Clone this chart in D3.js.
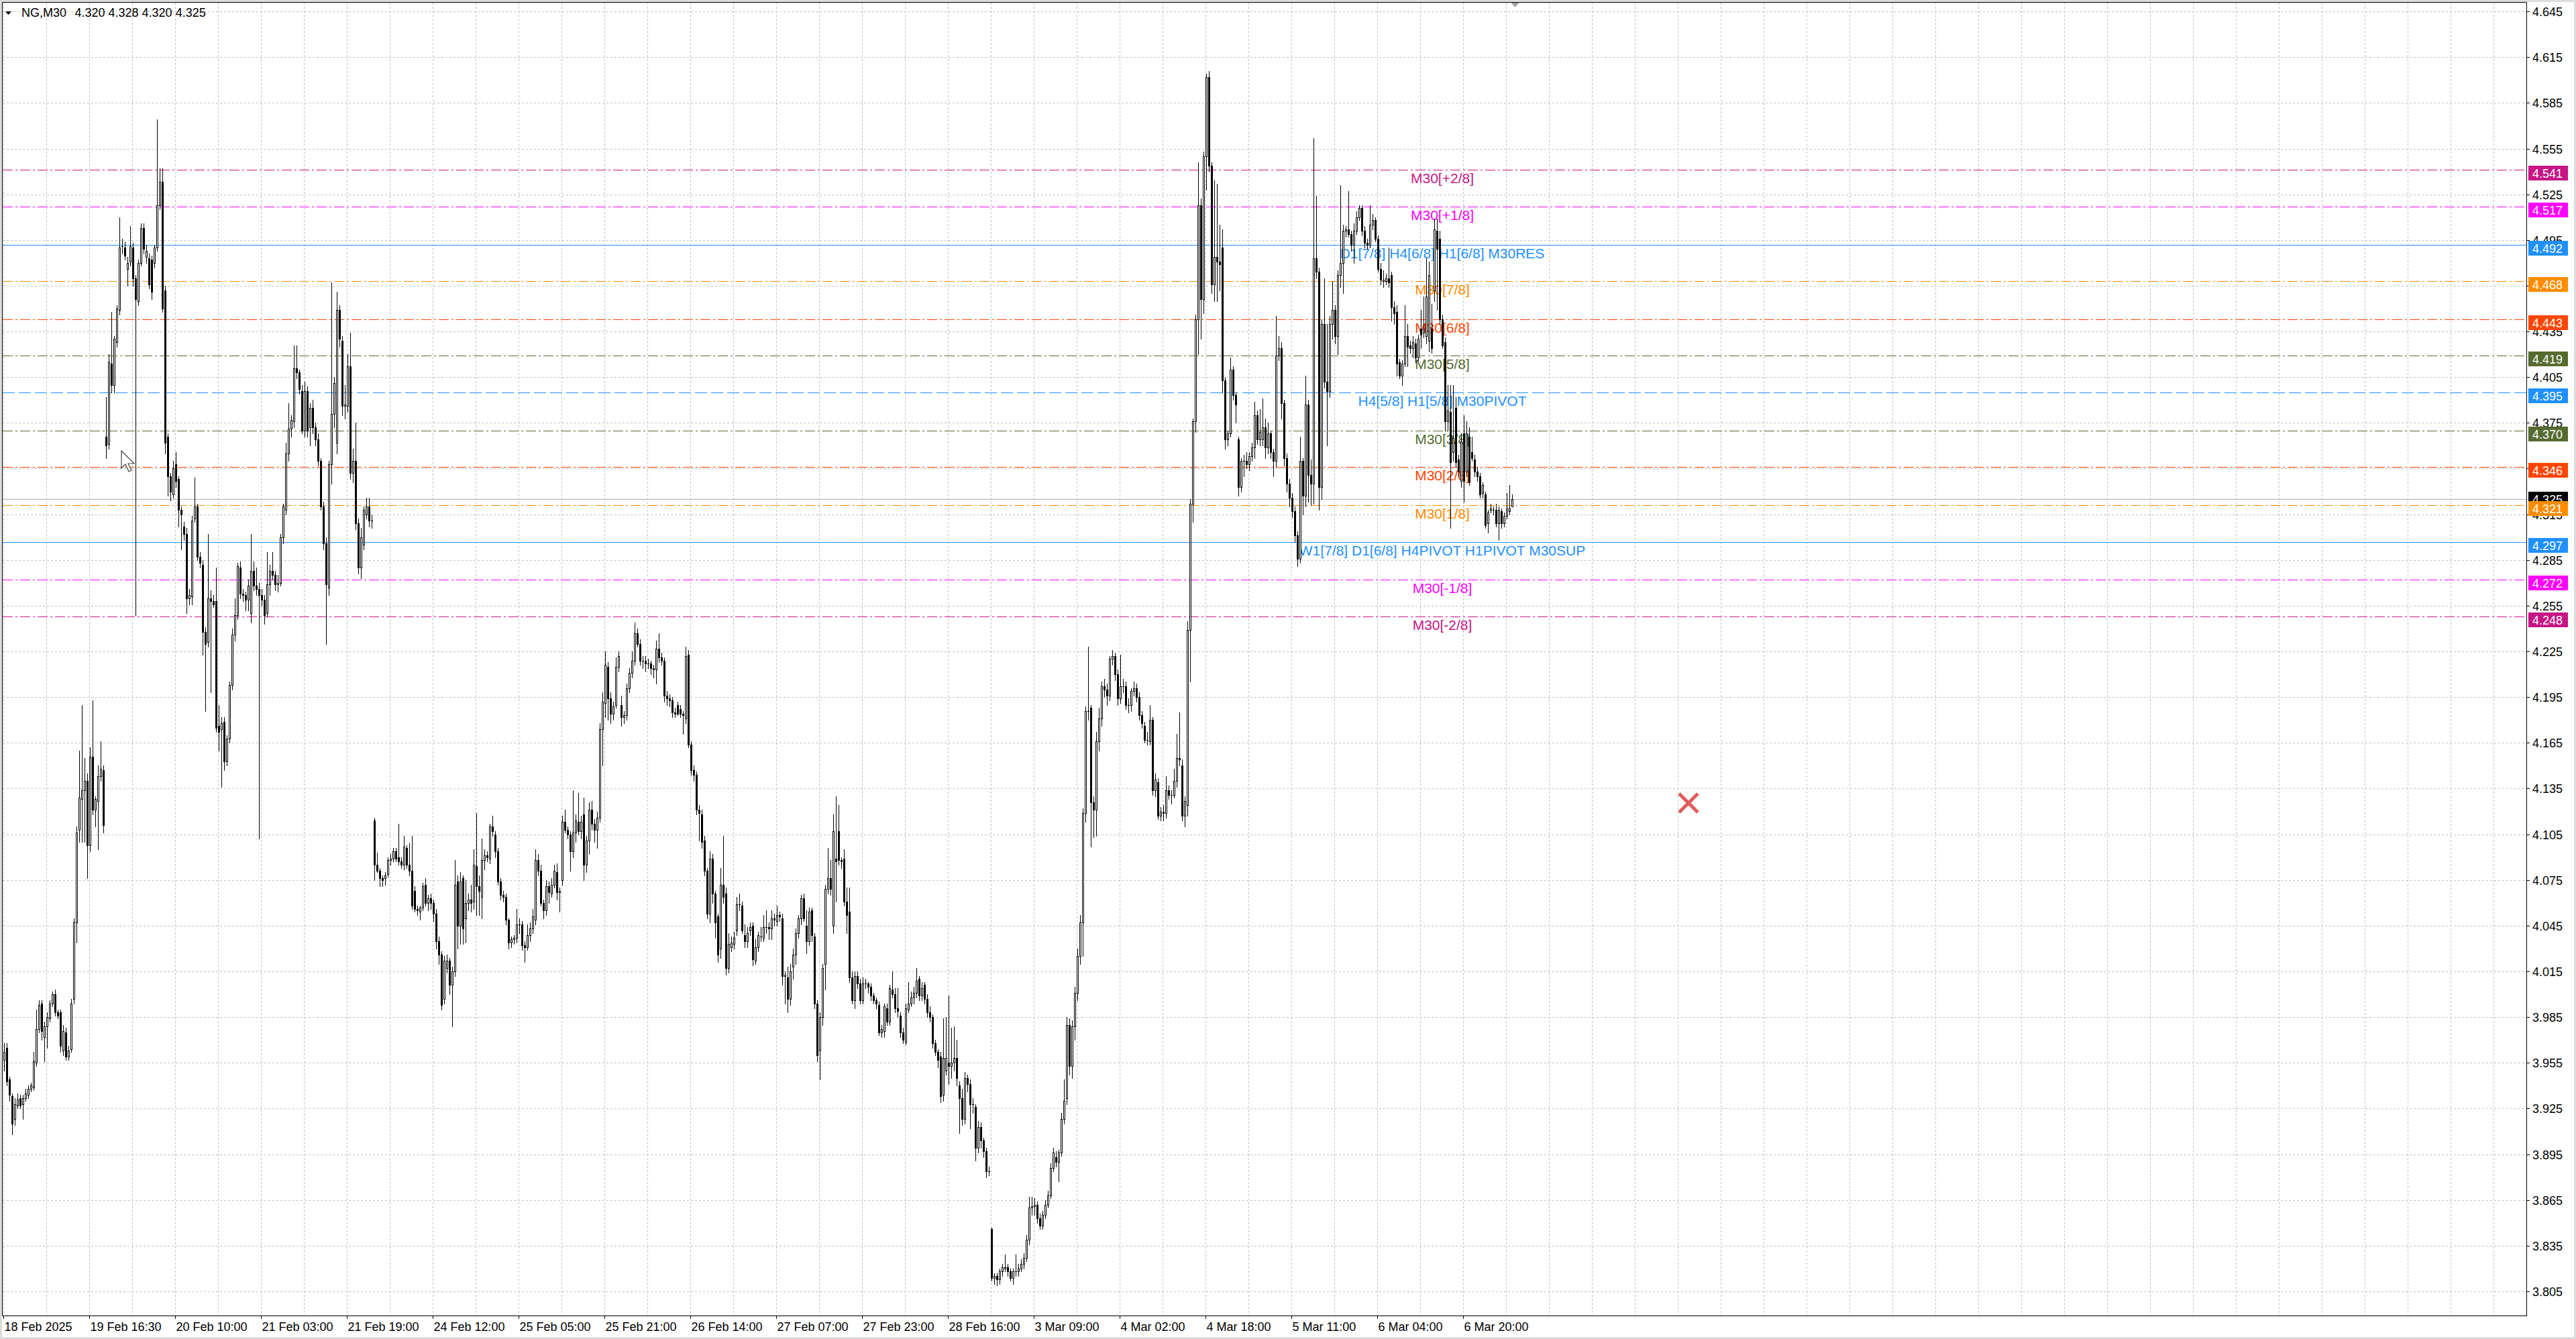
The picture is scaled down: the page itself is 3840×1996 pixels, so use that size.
<!DOCTYPE html>
<html><head><meta charset="utf-8">
<script src="https://cdn.jsdelivr.net/npm/d3@7"></script>
<style>html,body{margin:0;padding:0;background:#dcdcdc;overflow:hidden}svg{display:block}</style>
</head><body>
<svg id="chart" width="3840" height="1996"></svg>
<script>
// ---- DATA: NG,M30 candles [open, high, low, close], one per 30-minute bar ----
const bars = [
[3.957,3.968,3.950,3.962],[3.965,3.968,3.940,3.943],[3.944,3.946,3.930,3.934],[3.933,3.935,3.908,3.915],[3.918,3.932,3.914,3.928],[3.927,3.935,3.925,3.931],
[3.932,3.934,3.925,3.927],[3.928,3.934,3.918,3.932],[3.932,3.938,3.930,3.935],[3.934,3.940,3.932,3.938],[3.938,3.942,3.936,3.940],[3.939,3.962,3.937,3.956],
[3.955,3.990,3.953,3.977],[3.977,3.996,3.975,3.993],[3.994,3.996,3.970,3.976],[3.972,3.982,3.956,3.979],[3.979,3.988,3.965,3.985],[3.984,3.996,3.982,3.994],
[3.994,4.002,3.992,4.000],[4.000,4.003,3.986,3.988],[3.988,3.990,3.984,3.986],[3.988,3.990,3.962,3.966],[3.963,3.980,3.960,3.976],[3.975,3.978,3.957,3.959],
[3.959,3.966,3.957,3.963],[3.964,3.997,3.962,3.994],[3.997,4.050,3.994,4.047],[4.047,4.110,4.034,4.106],[4.108,4.160,4.100,4.129],[4.128,4.190,4.100,4.134],
[4.134,4.155,4.100,4.140],[4.140,4.145,4.076,4.098],[4.098,4.162,4.094,4.156],[4.156,4.193,4.118,4.121],[4.121,4.130,4.110,4.128],[4.127,4.150,4.095,4.143],
[4.143,4.166,4.140,4.148],[4.147,4.150,4.106,4.111],[4.366,4.392,4.352,4.360],[4.361,4.420,4.358,4.415],[4.414,4.448,4.395,4.400],[4.400,4.432,4.395,4.430],
[4.428,4.452,4.425,4.450],[4.449,4.510,4.446,4.490],[4.491,4.496,4.486,4.491],[4.490,4.494,4.482,4.485],[4.476,4.484,4.465,4.480],[4.481,4.504,4.478,4.491],
[4.490,4.493,4.465,4.470],[4.470,4.472,4.249,4.456],[4.455,4.482,4.452,4.480],[4.480,4.506,4.478,4.503],[4.503,4.506,4.486,4.489],[4.484,4.492,4.480,4.488],
[4.483,4.486,4.463,4.466],[4.482,4.485,4.456,4.461],[4.480,4.492,4.477,4.490],[4.490,4.574,4.488,4.518],[4.518,4.542,4.515,4.533],[4.533,4.542,4.448,4.450],
[4.462,4.465,4.355,4.362],[4.366,4.368,4.327,4.340],[4.340,4.342,4.324,4.330],[4.328,4.350,4.326,4.345],[4.348,4.356,4.333,4.337],[4.338,4.340,4.307,4.318],
[4.318,4.320,4.292,4.315],[4.307,4.310,4.298,4.302],[4.302,4.306,4.250,4.260],[4.260,4.266,4.256,4.262],[4.261,4.314,4.256,4.311],[4.312,4.339,4.310,4.320],
[4.320,4.322,4.285,4.287],[4.287,4.290,4.280,4.283],[4.282,4.285,4.223,4.238],[4.238,4.241,4.186,4.230],[4.231,4.302,4.228,4.260],[4.260,4.265,4.198,4.258],
[4.258,4.262,4.254,4.256],[4.258,4.280,4.172,4.175],[4.176,4.190,4.160,4.172],[4.174,4.182,4.136,4.178],[4.179,4.182,4.147,4.153],[4.153,4.170,4.150,4.168],
[4.168,4.205,4.165,4.203],[4.203,4.240,4.200,4.236],[4.236,4.260,4.232,4.249],[4.249,4.283,4.246,4.281],[4.280,4.284,4.260,4.263],[4.263,4.266,4.258,4.262],
[4.262,4.264,4.252,4.259],[4.259,4.272,4.252,4.268],[4.250,4.302,4.244,4.278],[4.278,4.284,4.265,4.268],[4.268,4.280,4.262,4.266],[4.266,4.270,4.102,4.262],
[4.262,4.266,4.255,4.259],[4.259,4.262,4.243,4.249],[4.250,4.290,4.248,4.269],[4.269,4.282,4.262,4.278],[4.278,4.290,4.272,4.275],[4.275,4.278,4.265,4.269],
[4.269,4.275,4.264,4.270],[4.270,4.302,4.268,4.300],[4.300,4.322,4.296,4.320],[4.318,4.362,4.315,4.355],[4.355,4.388,4.350,4.371],[4.371,4.380,4.366,4.377],
[4.376,4.426,4.372,4.411],[4.411,4.426,4.404,4.408],[4.408,4.410,4.394,4.397],[4.396,4.400,4.368,4.370],[4.370,4.402,4.366,4.396],[4.396,4.399,4.366,4.370],
[4.372,4.388,4.360,4.385],[4.385,4.390,4.368,4.372],[4.372,4.375,4.360,4.364],[4.364,4.368,4.347,4.350],[4.350,4.352,4.318,4.320],[4.320,4.323,4.292,4.296],
[4.296,4.300,4.230,4.269],[4.267,4.350,4.262,4.348],[4.348,4.467,4.335,4.381],[4.381,4.405,4.372,4.401],[4.362,4.461,4.355,4.449],[4.449,4.452,4.425,4.430],
[4.429,4.432,4.380,4.386],[4.386,4.400,4.378,4.387],[4.386,4.420,4.382,4.412],[4.412,4.434,4.338,4.342],[4.342,4.358,4.336,4.350],[4.350,4.375,4.305,4.309],
[4.309,4.312,4.276,4.280],[4.280,4.306,4.273,4.300],[4.295,4.320,4.292,4.318],[4.315,4.326,4.312,4.320],[4.320,4.326,4.307,4.311],[4.311,4.315,4.306,4.311],
// 24 Feb
[4.114,4.116,4.075,4.085],[4.085,4.093,4.080,4.081],[4.081,4.083,4.071,4.076],[4.076,4.078,4.071,4.075],[4.076,4.080,4.072,4.078],[4.079,4.090,4.077,4.088],
[4.088,4.092,4.085,4.089],[4.089,4.096,4.087,4.094],[4.094,4.096,4.087,4.089],[4.090,4.112,4.085,4.087],[4.087,4.090,4.083,4.085],[4.085,4.104,4.082,4.097],
[4.096,4.098,4.083,4.085],[4.085,4.099,4.078,4.081],[4.081,4.104,4.056,4.058],[4.068,4.071,4.054,4.056],[4.056,4.058,4.052,4.055],[4.054,4.058,4.049,4.057],
[4.057,4.073,4.055,4.071],[4.072,4.076,4.058,4.060],[4.060,4.065,4.055,4.063],[4.063,4.066,4.056,4.060],[4.060,4.062,4.048,4.053],[4.053,4.056,4.030,4.035],
[4.035,4.038,4.020,4.026],[4.026,4.028,3.990,3.993],[3.997,4.025,3.994,4.022],[4.017,4.026,4.014,4.022],[4.022,4.024,4.000,4.006],[4.006,4.018,3.979,4.015],
[4.015,4.088,4.012,4.072],[4.074,4.078,4.030,4.045],[4.045,4.080,4.033,4.074],[4.076,4.078,4.033,4.043],[4.050,4.075,4.034,4.060],[4.060,4.066,4.055,4.062],
[4.062,4.072,4.054,4.060],[4.061,4.095,4.056,4.085],[4.084,4.119,4.052,4.071],[4.071,4.078,4.052,4.068],[4.064,4.102,4.050,4.088],[4.088,4.095,4.082,4.091],
[4.091,4.094,4.087,4.090],[4.089,4.112,4.086,4.110],[4.110,4.117,4.104,4.107],[4.105,4.107,4.090,4.094],[4.094,4.096,4.072,4.074],[4.074,4.076,4.062,4.065],
[4.065,4.068,4.061,4.064],[4.064,4.066,4.046,4.049],[4.049,4.050,4.030,4.034],[4.034,4.038,4.031,4.036],[4.036,4.039,4.033,4.037],[4.037,4.056,4.034,4.046],
[4.046,4.050,4.040,4.046],[4.046,4.048,4.029,4.032],[4.032,4.035,4.021,4.031],[4.031,4.046,4.029,4.039],[4.039,4.047,4.035,4.043],[4.043,4.056,4.040,4.051],
[4.049,4.095,4.046,4.088],[4.088,4.092,4.078,4.081],[4.081,4.085,4.058,4.060],[4.060,4.062,4.050,4.055],[4.055,4.075,4.052,4.071],[4.071,4.074,4.060,4.067],
[4.066,4.076,4.064,4.072],[4.072,4.085,4.070,4.081],[4.080,4.086,4.062,4.067],[4.067,4.070,4.054,4.068],[4.075,4.117,4.072,4.113],[4.113,4.121,4.106,4.108],
[4.108,4.110,4.102,4.105],[4.105,4.107,4.081,4.094],[4.094,4.134,4.090,4.106],[4.106,4.118,4.100,4.114],[4.113,4.132,4.105,4.107],[4.107,4.117,4.102,4.113],
[4.118,4.129,4.075,4.085],[4.085,4.104,4.080,4.101],[4.101,4.126,4.092,4.121],[4.121,4.127,4.108,4.112],[4.112,4.115,4.100,4.108],[4.108,4.120,4.096,4.116],
[4.116,4.178,4.113,4.174],[4.174,4.198,4.150,4.192],[4.191,4.225,4.182,4.216],[4.215,4.218,4.180,4.194],[4.194,4.198,4.178,4.184],[4.184,4.192,4.180,4.189],
[4.190,4.221,4.188,4.215],[4.215,4.225,4.212,4.222],[4.190,4.196,4.176,4.182],[4.182,4.186,4.178,4.183],[4.183,4.204,4.180,4.201],[4.201,4.214,4.198,4.211],
[4.211,4.225,4.208,4.219],[4.219,4.244,4.216,4.237],[4.237,4.240,4.228,4.230],[4.230,4.233,4.216,4.219],[4.219,4.222,4.214,4.219],[4.219,4.222,4.212,4.217],
[4.217,4.220,4.214,4.217],[4.217,4.219,4.210,4.214],[4.213,4.216,4.208,4.214],[4.213,4.232,4.204,4.227],[4.227,4.237,4.218,4.221],[4.221,4.224,4.216,4.219],
[4.219,4.221,4.192,4.196],[4.196,4.199,4.190,4.194],[4.194,4.197,4.189,4.193],[4.193,4.195,4.182,4.185],[4.185,4.188,4.182,4.184],[4.190,4.192,4.183,4.184],
[4.187,4.190,4.182,4.184],[4.184,4.186,4.171,4.183],[4.181,4.228,4.178,4.222],[4.223,4.226,4.162,4.164],[4.164,4.166,4.144,4.147],[4.147,4.150,4.140,4.144],
[4.144,4.146,4.118,4.121],[4.121,4.124,4.101,4.119],[4.118,4.121,4.096,4.100],[4.101,4.104,4.078,4.081],[4.081,4.083,4.050,4.053],[4.053,4.094,4.047,4.089],
[4.089,4.092,4.060,4.066],[4.066,4.068,4.037,4.047],[4.051,4.053,4.021,4.026],[4.030,4.083,4.024,4.072],[4.072,4.104,4.060,4.064],[4.066,4.070,4.013,4.017],
[4.017,4.040,4.014,4.033],[4.031,4.038,4.028,4.034],[4.033,4.041,4.030,4.037],[4.042,4.064,4.039,4.059],[4.059,4.066,4.055,4.059],[4.058,4.061,4.040,4.042],
[4.039,4.046,4.031,4.035],[4.035,4.044,4.031,4.040],[4.042,4.047,4.039,4.044],[4.045,4.047,4.019,4.023],[4.022,4.036,4.020,4.031],[4.031,4.041,4.028,4.039],
[4.038,4.044,4.035,4.038],[4.037,4.052,4.035,4.044],[4.044,4.055,4.040,4.044],[4.044,4.047,4.036,4.043],[4.043,4.055,4.036,4.050],[4.050,4.053,4.045,4.049],
[4.048,4.058,4.045,4.052],[4.052,4.054,4.048,4.051],[4.050,4.053,4.006,4.012],[4.012,4.015,3.994,4.013],[4.011,4.018,3.988,3.997],[3.997,4.020,3.993,4.015],
[4.018,4.030,4.010,4.026],[4.026,4.043,4.020,4.040],[4.040,4.052,4.037,4.050],[4.050,4.065,4.046,4.063],[4.063,4.066,4.048,4.050],[4.045,4.055,4.027,4.035],
[4.035,4.057,4.032,4.054],[4.055,4.057,4.035,4.039],[4.038,4.040,3.991,3.994],[3.994,3.996,3.956,3.960],[3.963,3.988,3.944,3.985],[3.985,4.020,3.980,4.017],
[4.020,4.072,4.003,4.069],[4.069,4.096,4.066,4.076],[4.076,4.088,4.065,4.069],[4.045,4.118,4.040,4.107],[4.089,4.130,4.061,4.087],[4.107,4.124,4.085,4.088],
[4.088,4.090,4.083,4.087],[4.089,4.095,4.058,4.061],[4.061,4.070,4.040,4.052],[4.054,4.070,4.008,4.011],[4.011,4.015,3.994,3.996],[3.996,4.015,3.991,4.012],
[4.012,4.015,4.004,4.007],[4.007,4.010,3.994,3.996],[3.996,4.011,3.994,4.007],[4.007,4.010,4.004,4.007],[4.007,4.008,4.001,4.005],[4.005,4.007,3.996,3.999],
[3.999,4.001,3.994,3.996],[3.996,3.998,3.991,3.994],[3.993,3.995,3.973,3.975],[3.975,3.980,3.972,3.977],[3.976,3.994,3.972,3.992],[3.991,3.994,3.980,3.982],
[3.982,4.006,3.980,4.004],[4.003,4.015,3.998,4.000],[4.000,4.004,3.988,3.991],[3.991,4.004,3.985,3.989],[3.986,3.988,3.972,3.975],[3.975,3.978,3.968,3.970],
[3.969,3.994,3.967,3.991],[3.990,4.008,3.988,3.994],[3.994,4.002,3.992,3.998],[3.998,4.005,3.994,4.001],[4.001,4.017,3.998,4.009],[4.010,4.012,3.996,3.999],
[3.999,4.008,3.996,4.004],[4.006,4.008,3.994,3.997],[3.997,4.000,3.985,3.988],[3.988,3.992,3.982,3.985],[3.985,3.987,3.965,3.968],[3.968,3.970,3.960,3.962],
[3.962,3.964,3.952,3.957],[3.959,3.962,3.929,3.933],[3.934,3.984,3.930,3.958],[3.950,3.985,3.947,3.958],[3.955,3.999,3.941,3.953],[3.953,3.978,3.945,3.955],
[3.955,3.979,3.950,3.958],[3.958,3.970,3.940,3.945],[3.940,3.943,3.909,3.932],[3.932,3.938,3.914,3.918],[3.918,3.949,3.915,3.945],[3.945,3.947,3.936,3.941],
[3.941,3.944,3.912,3.928],[3.928,3.932,3.922,3.928],[3.926,3.928,3.891,3.899],[3.899,3.917,3.896,3.913],[3.913,3.916,3.899,3.904],[3.904,3.906,3.893,3.897],
[3.897,3.899,3.880,3.884],[3.884,3.887,3.881,3.884],
// 3 Mar
[3.846,3.847,3.812,3.814],[3.814,3.817,3.810,3.815],[3.815,3.817,3.809,3.813],[3.813,3.820,3.810,3.818],
[3.818,3.823,3.815,3.821],[3.820,3.829,3.818,3.821],[3.821,3.823,3.815,3.818],[3.818,3.820,3.812,3.814],[3.814,3.820,3.810,3.818],[3.818,3.829,3.815,3.818],
[3.818,3.823,3.815,3.820],[3.820,3.826,3.818,3.823],[3.823,3.830,3.820,3.827],[3.827,3.842,3.825,3.839],[3.839,3.867,3.836,3.860],[3.860,3.867,3.855,3.861],
[3.861,3.866,3.855,3.862],[3.862,3.864,3.850,3.853],[3.853,3.856,3.846,3.848],[3.848,3.858,3.846,3.855],[3.855,3.865,3.853,3.862],[3.862,3.871,3.860,3.868],
[3.868,3.889,3.866,3.886],[3.886,3.899,3.884,3.896],[3.893,3.897,3.887,3.890],[3.890,3.898,3.877,3.896],[3.896,3.922,3.894,3.918],[3.918,3.944,3.915,3.930],
[3.932,3.985,3.928,3.980],[3.980,3.984,3.947,3.953],[3.953,3.983,3.945,3.979],[3.979,4.005,3.970,4.001],[4.001,4.030,3.996,4.025],[4.025,4.052,4.020,4.047],
[4.047,4.122,4.025,4.119],[4.119,4.189,4.113,4.186],[4.186,4.228,4.180,4.186],[4.188,4.190,4.097,4.126],[4.126,4.130,4.103,4.121],[4.121,4.172,4.104,4.166],
[4.166,4.188,4.160,4.181],[4.181,4.205,4.176,4.202],[4.202,4.207,4.195,4.200],[4.200,4.204,4.190,4.196],[4.196,4.222,4.193,4.220],[4.220,4.226,4.216,4.222],
[4.222,4.224,4.206,4.210],[4.210,4.213,4.190,4.194],[4.194,4.223,4.191,4.202],[4.202,4.207,4.198,4.202],[4.202,4.205,4.187,4.190],[4.190,4.194,4.185,4.190],
[4.190,4.201,4.186,4.199],[4.199,4.205,4.196,4.201],[4.201,4.204,4.192,4.195],[4.195,4.198,4.180,4.183],[4.183,4.186,4.175,4.178],[4.176,4.179,4.165,4.167],
[4.167,4.172,4.164,4.167],[4.166,4.190,4.164,4.180],[4.180,4.182,4.131,4.134],[4.134,4.145,4.130,4.141],[4.139,4.142,4.115,4.117],[4.117,4.123,4.114,4.120],
[4.120,4.124,4.114,4.119],[4.119,4.143,4.116,4.134],[4.134,4.137,4.128,4.131],[4.131,4.134,4.125,4.131],[4.131,4.148,4.129,4.140],[4.140,4.171,4.136,4.155],
[4.155,4.185,4.150,4.154],[4.150,4.154,4.114,4.117],[4.117,4.130,4.110,4.127],[4.124,4.245,4.117,4.239],[4.239,4.325,4.205,4.322],[4.322,4.378,4.310,4.376],
[4.376,4.446,4.369,4.443],[4.443,4.546,4.420,4.518],[4.518,4.522,4.430,4.456],[4.456,4.553,4.447,4.550],[4.550,4.604,4.528,4.602],[4.602,4.606,4.540,4.544],
[4.544,4.546,4.460,4.466],[4.466,4.534,4.455,4.484],[4.484,4.532,4.455,4.481],[4.481,4.505,4.462,4.479],[4.490,4.502,4.395,4.403],[4.403,4.405,4.358,4.364],
[4.364,4.370,4.360,4.368],[4.368,4.418,4.366,4.410],[4.410,4.412,4.390,4.393],[4.393,4.395,4.375,4.387],[4.364,4.366,4.327,4.333],[4.333,4.352,4.330,4.350],
[4.350,4.354,4.340,4.350],[4.350,4.356,4.345,4.348],[4.348,4.356,4.344,4.353],[4.353,4.362,4.350,4.359],[4.359,4.389,4.352,4.380],[4.380,4.383,4.361,4.364],
[4.364,4.384,4.360,4.369],[4.364,4.391,4.360,4.372],[4.372,4.378,4.352,4.359],[4.359,4.375,4.355,4.368],[4.368,4.370,4.352,4.356],[4.356,4.358,4.340,4.350],
[4.350,4.445,4.346,4.419],[4.419,4.432,4.416,4.424],[4.424,4.428,4.378,4.388],[4.388,4.390,4.347,4.352],[4.352,4.355,4.330,4.335],[4.335,4.338,4.320,4.326],
[4.326,4.329,4.313,4.317],[4.317,4.320,4.297,4.301],[4.301,4.304,4.281,4.286],[4.286,4.366,4.283,4.350],[4.350,4.352,4.315,4.327],[4.327,4.406,4.320,4.387],
[4.387,4.390,4.323,4.341],[4.341,4.351,4.321,4.335],[4.335,4.562,4.322,4.483],[4.483,4.524,4.470,4.474],[4.474,4.477,4.318,4.333],[4.333,4.443,4.325,4.440],
[4.440,4.470,4.398,4.402],[4.402,4.440,4.360,4.396],[4.396,4.445,4.392,4.440],[4.440,4.468,4.430,4.449],[4.449,4.452,4.427,4.432],[4.432,4.475,4.420,4.472],
[4.472,4.531,4.464,4.480],[4.480,4.505,4.460,4.501],[4.501,4.504,4.497,4.502],[4.502,4.527,4.497,4.499],[4.499,4.501,4.488,4.492],[4.492,4.506,4.480,4.501],
[4.501,4.514,4.499,4.510],[4.510,4.518,4.508,4.516],[4.516,4.518,4.498,4.501],[4.501,4.504,4.490,4.493],[4.493,4.496,4.489,4.492],[4.492,4.518,4.490,4.505],
[4.505,4.512,4.502,4.508],[4.508,4.510,4.494,4.496],[4.496,4.498,4.474,4.476],[4.476,4.480,4.466,4.469],[4.468,4.475,4.464,4.469],[4.468,4.473,4.466,4.470],
[4.470,4.490,4.464,4.467],[4.472,4.474,4.442,4.451],[4.451,4.455,4.440,4.447],[4.448,4.452,4.406,4.414],[4.415,4.417,4.404,4.406],[4.406,4.416,4.400,4.414],
[4.414,4.452,4.412,4.432],[4.432,4.440,4.412,4.425],[4.426,4.429,4.421,4.424],[4.424,4.432,4.418,4.428],[4.427,4.430,4.415,4.418],[4.418,4.433,4.416,4.430],
[4.437,4.449,4.424,4.433],[4.434,4.458,4.431,4.437],[4.432,4.483,4.427,4.458],[4.429,4.481,4.422,4.472],[4.437,4.453,4.421,4.424],[4.462,4.509,4.455,4.502],
[4.501,4.509,4.449,4.489],[4.496,4.501,4.440,4.443],[4.443,4.446,4.424,4.426],[4.428,4.431,4.370,4.376],[4.376,4.400,4.370,4.383],[4.382,4.400,4.306,4.349],
[4.356,4.400,4.350,4.365],[4.385,4.392,4.346,4.349],[4.351,4.354,4.340,4.343],[4.337,4.368,4.333,4.363],[4.368,4.380,4.323,4.337],[4.343,4.376,4.340,4.368],
[4.366,4.372,4.334,4.336],[4.356,4.366,4.350,4.352],[4.351,4.354,4.340,4.343],[4.343,4.346,4.337,4.340],[4.340,4.342,4.326,4.328],[4.329,4.336,4.326,4.334],
[4.328,4.330,4.306,4.308],[4.309,4.318,4.303,4.316],[4.318,4.322,4.316,4.319],[4.318,4.320,4.315,4.318],[4.318,4.322,4.307,4.309],[4.309,4.320,4.298,4.318],
[4.317,4.319,4.306,4.309],[4.309,4.316,4.307,4.314],[4.314,4.329,4.312,4.319],[4.317,4.334,4.315,4.319],[4.320,4.328,4.320,4.325]
];

// time-axis labels, one every 32 bars
const timeLabels = ["18 Feb 2025","19 Feb 16:30","20 Feb 10:00","21 Feb 03:00","21 Feb 19:00","24 Feb 12:00",
  "25 Feb 05:00","25 Feb 21:00","26 Feb 14:00","27 Feb 07:00","27 Feb 23:00","28 Feb 16:00",
  "3 Mar 09:00","4 Mar 02:00","4 Mar 18:00","5 Mar 11:00","6 Mar 04:00","6 Mar 20:00"];

// price-axis tick labels
const priceTicks = [4.645,4.615,4.585,4.555,4.525,4.495,4.465,4.435,4.405,4.375,4.345,4.315,4.285,4.255,
  4.225,4.195,4.165,4.135,4.105,4.075,4.045,4.015,3.985,3.955,3.925,3.895,3.865,3.835,3.805];

// Murrey-math / pivot levels and their labels
const levelPrices = [4.541,4.517,4.492,4.468,4.443,4.419,4.395,4.370,4.346,4.321,4.297,4.272,4.248];
const levelTexts = ["M30[+2/8]","M30[+1/8]","D1[7/8] H4[6/8] H1[6/8] M30RES","M30[7/8]","M30[6/8]","M30[5/8]",
  "H4[5/8] H1[5/8] M30PIVOT","M30[3/8]","M30[2/8]","M30[1/8]","W1[7/8] D1[6/8] H4PIVOT H1PIVOT M30SUP","M30[-1/8]","M30[-2/8]"];
const bidPrice = 4.325;
const header = {symbol: "NG,M30", ohlc: ["4.320","4.328","4.320","4.325"]};

// ---- STYLES (kept apart from the data) ----
const levelColors = ["#C71585","#FF00FF","#1E90FF","#FF8C00","#FF4500","#556B2F","#1E90FF","#556B2F","#FF4500","#FF8C00","#1E90FF","#FF00FF","#C71585"];
const levelDash = ["dd","dd","solid","dd","dd","dd","dash","dd","dd","dd","solid","dd","dd"];
const dashMap = {dd: "15,4,3,4", dash: "18,6", solid: null};

// ---- LAYOUT ----
const W = 3840, H = 1996;
const L = 4, T = 4, R = 3766, B = 1961;
const FONT = "'Liberation Sans', Arial, sans-serif";

const svg = d3.select("#chart");
const x = d3.scaleLinear().domain([0, 1]).range([6.5, 10.5]);
const y = d3.scaleLinear().domain([3.805, 4.645]).range([1925.0, 17.1]);
const py = v => Math.round(y(v)) + 0.5;

// window background
svg.append("rect").attr("x", 3).attr("y", 3).attr("width", W - 6).attr("height", H - 6).attr("fill", "#ffffff");

// grid
const gGrid = svg.append("g");
gGrid.selectAll("line.h").data(priceTicks).join("line")
  .attr("x1", L).attr("x2", R).attr("y1", d => py(d)).attr("y2", d => py(d))
  .attr("stroke", "#c0c0c0").attr("stroke-width", 1).attr("stroke-dasharray", "3,3");
const vBars = d3.range(0, 940, 16).filter(i => x(i) - 1 < R);
gGrid.selectAll("line.v").data(vBars).join("line")
  .attr("x1", d => x(d) - 1).attr("x2", d => x(d) - 1).attr("y1", T).attr("y2", B)
  .attr("stroke", "#c0c0c0").attr("stroke-width", 1).attr("stroke-dasharray", "3,3");

// level lines
const gLev = svg.append("g");
gLev.append("line").attr("x1", L).attr("x2", R).attr("y1", py(bidPrice)).attr("y2", py(bidPrice))
  .attr("stroke", "#c0c0c0").attr("stroke-width", 1.5);
gLev.selectAll("line.lv").data(levelPrices).join("line")
  .attr("x1", L).attr("x2", R).attr("y1", d => py(d)).attr("y2", d => py(d))
  .attr("stroke", (d, i) => levelColors[i])
  .attr("stroke-width", 1)
  .attr("stroke-dasharray", (d, i) => dashMap[levelDash[i]]);

// level labels
svg.append("g").selectAll("text").data(levelPrices).join("text")
  .attr("x", 2150).attr("y", d => py(d) + 19)
  .attr("text-anchor", "middle").attr("font-family", FONT).attr("font-size", 21)
  .attr("fill", (d, i) => levelColors[i]).text((d, i) => levelTexts[i]);

// candles
const gC = svg.append("g");
bars.forEach((b, i) => {
  const [o, h, l, c] = b;
  const cx = x(i);
  gC.append("line").attr("x1", cx).attr("x2", cx)
    .attr("y1", Math.round(y(h))).attr("y2", Math.round(y(l)) + 1)
    .attr("stroke", "#000").attr("stroke-width", 1);
  const top = Math.round(y(Math.max(o, c))), bot = Math.round(y(Math.min(o, c)));
  if (bot - top < 1) {
    gC.append("line").attr("x1", cx - 1.5).attr("x2", cx + 1.5).attr("y1", top + 0.5).attr("y2", top + 0.5)
      .attr("stroke", "#000").attr("stroke-width", 1);
  } else if (c >= o) {
    gC.append("rect").attr("x", cx - 1).attr("y", top + 0.5).attr("width", 2).attr("height", bot - top)
      .attr("fill", "#fff").attr("stroke", "#000").attr("stroke-width", 1);
  } else {
    gC.append("rect").attr("x", cx - 1.5).attr("y", top).attr("width", 3).attr("height", bot - top + 1)
      .attr("fill", "#000");
  }
});

// frame
svg.append("path").attr("d", `M${L - 0.5},${B + 0.5}V${T - 0.5}H${R + 0.5}V${B + 0.5}H${L - 0.5}`)
  .attr("fill", "none").attr("stroke", "#000").attr("stroke-width", 1);

// time axis
const gX = svg.append("g");
gX.selectAll("line").data(timeLabels).join("line")
  .attr("x1", (d, k) => x(32 * k) - 1).attr("x2", (d, k) => x(32 * k) - 1)
  .attr("y1", B).attr("y2", B + 5).attr("stroke", "#000");
gX.selectAll("text").data(timeLabels).join("text")
  .attr("x", (d, k) => x(32 * k)).attr("y", 1984)
  .attr("font-family", FONT).attr("font-size", 18).attr("fill", "#000").text(d => d);

// price axis
const gY = svg.append("g");
gY.selectAll("line").data(priceTicks).join("line")
  .attr("x1", R).attr("x2", R + 5).attr("y1", d => py(d)).attr("y2", d => py(d)).attr("stroke", "#000");
gY.selectAll("text").data(priceTicks).join("text")
  .attr("x", 3775).attr("y", d => py(d) + 6)
  .attr("font-family", FONT).attr("font-size", 18).attr("fill", "#000").text(d => d.toFixed(3));

// price boxes
const gB = svg.append("g");
gB.append("rect").attr("x", 3769).attr("y", Math.round(y(bidPrice)) - 11).attr("width", 59).attr("height", 22).attr("fill", "#000");
gB.append("text").attr("x", 3775).attr("y", Math.round(y(bidPrice)) + 6.5)
  .attr("font-family", FONT).attr("font-size", 18).attr("fill", "#fff").text(bidPrice.toFixed(3));
levelPrices.forEach((p, i) => {
  const yy = Math.round(y(p));
  gB.append("rect").attr("x", 3769).attr("y", yy - 6).attr("width", 59).attr("height", 22).attr("fill", levelColors[i]);
  gB.append("text").attr("x", 3775).attr("y", yy + 11.5)
    .attr("font-family", FONT).attr("font-size", 18).attr("fill", "#fff").text(p.toFixed(3));
});

// header
svg.append("path").attr("d", "M8,17L17,17L12.5,22Z").attr("fill", "#000");
svg.append("text").attr("x", 32).attr("y", 25).attr("font-family", FONT).attr("font-size", 18).attr("fill", "#000").text(header.symbol);
svg.append("text").attr("x", 111.5).attr("y", 25).attr("font-family", FONT).attr("font-size", 18).attr("fill", "#000")
  .text(header.ohlc.join(" "));

// chart-shift marker
const sx = x(bars.length);
svg.append("path").attr("d", `M${sx - 6},${T}L${sx + 6},${T}L${sx},${T + 7}Z`).attr("fill", "#a0a0a0");

// red cross object
const crx = 2517, cry = 1197;
svg.append("path").attr("d", `M${crx - 14},${cry - 14}L${crx + 14},${cry + 14}M${crx + 14},${cry - 14}L${crx - 14},${cry + 14}`)
  .attr("stroke", "#e05a5a").attr("stroke-width", 5).attr("fill", "none");

// mouse pointer
svg.append("path").attr("d", "M181,672 l0,26 l6,-6 l5,11 l4,-2 l-5,-10 l9,0 Z")
  .attr("fill", "#fff").attr("stroke", "#444").attr("stroke-width", 1.2);
</script>
</body></html>
